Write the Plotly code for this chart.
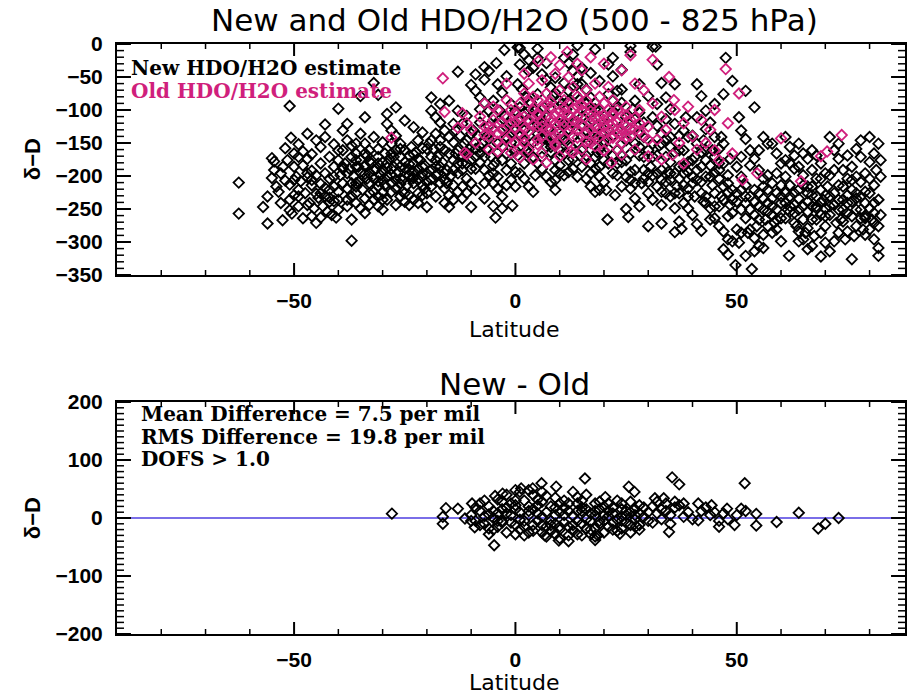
import plotly.graph_objects as go

# ---------------- data ----------------
# New HDO/H2O estimate (black): latitude and delta-D
new_lat = [
    -62.5, -62.5, -57, -56, -56, -52.6, -55, -54.5, -51, -50.7,
    -53, -52, -51, -50, -50, -53, -51, -49.5, -52, -54,
    -51.5, -50, -53.5, -55, -49, -50.5, -52.5, -49, -54.5, -51,
    -49, -48, -47, -46, -45, -44, -43, -42, -41, -40,
    -48.5, -47.5, -46.5, -45.5, -44.5, -43.5, -42.5, -41.5, -40.5, -45,
    -48, -47, -46, -45, -44, -43, -42, -41, -40, -39.5,
    -49, -47, -46, -44, -42, -41, -40, -43, -41, -40,
    -48, -46, -44, -42, -40, -45, -47, -43, -40, -39,
    -39, -38, -37, -36, -35, -34, -33, -32, -31, -30,
    -39, -38, -37, -36, -35, -34, -33, -32, -31, -30,
    -38.5, -37.5, -36.5, -35.5, -34.5, -33.5, -32.5, -31.5, -30.5, -30,
    -39, -37, -36, -34, -33, -32, -31, -30, -35, -37,
    -37, -38, -36, -34, -33, -31, -35, -32, -30, -36,
    -32, -35, -31, -38, -34, -33, -31, -39, -36, -30,
    -29, -28, -27, -26, -25, -24, -23, -22, -21, -20,
    -29, -28, -27, -26, -25, -24, -23, -22, -21, -20,
    -29.5, -28.5, -27.5, -26.5, -25.5, -24.5, -23.5, -22.5, -21.5, -20.5,
    -29, -27, -25, -23, -21, -28, -26, -24, -22, -20,
    -29, -27, -25, -23, -21, -28, -26, -24, -22, -20,
    -29, -27, -25, -23, -21, -28, -26, -24, -22, -20,
    -19, -18, -17, -16, -15, -14, -13, -12, -11, -10,
    -19, -18, -17, -16, -15, -14, -13, -12, -11, -10,
    -19.5, -18.5, -17.5, -16.5, -15.5, -14.5, -13.5, -12.5, -11.5, -10.5,
    -19, -17, -15, -13, -11, -18, -16, -14, -12, -10,
    -19, -17, -15, -13, -11, -18, -16, -14, -12, -10,
    -19, -17, -15, -13, -11, -18, -16, -14, -12, -10,
    -9, -8, -7, -6, -5, -4, -3, -2, -1, 0,
    -9, -8, -7, -6, -5, -4, -3, -2, -1, 0,
    -9.5, -8.5, -7.5, -6.5, -5.5, -4.5, -3.5, -2.5, -1.5, -0.5,
    -9, -7, -5, -4.5, -3, -0.7, -8, -6, -4, -2,
    -9, -7, -6, -4, -2, -8, -5, -3, -1, 0,
    -9, -7, -5, -3, -1, -8, -6, -4, -2, 0,
    1, 2, 3, 4, 5, 6, 7, 8, 9, 10,
    1, 2, 3, 4, 5, 6, 7, 8, 9, 10,
    0.5, 1.5, 2.5, 3.5, 4.5, 5.5, 6.5, 7.5, 8.5, 9.5,
    1, 2, 3, 4, 5, 6, 7, 8, 9, 10,
    1, 3, 5, 7, 9, 2, 4, 6, 8, 10,
    0.5, 2.5, 4.5, 6.5, 8.5, 1, 3, 5, 7, 9,
    11, 12, 13, 14, 15, 16, 17, 18, 19, 20,
    11, 12, 13, 14, 15, 16, 17, 18, 19, 20,
    10.5, 11.5, 12.5, 13.5, 14.5, 15.5, 16.5, 17.5, 18.5, 19.5,
    11, 13, 15, 16, 17, 18, 12, 14, 19, 20,
    11, 13, 15, 17, 19, 12, 14, 16, 18, 20,
    10.5, 12.5, 14.5, 16.5, 18.5, 11, 13, 15, 17, 19,
    21, 22, 23, 24, 25, 26, 27, 28, 29, 30,
    21, 22, 23, 24, 25, 26, 27, 28, 29, 30,
    20.8, 25, 25.5, 30, 21, 22, 23, 24, 27, 28,
    26, 26, 22, 24, 28, 30, 29, 27, 26, 23,
    21, 23, 25, 27, 29, 22, 24, 26, 28, 30,
    20.5, 22.5, 24.5, 26.5, 28.5,
    31, 32, 33, 34, 35, 36, 37, 38, 39, 40,
    31, 32, 33, 34, 35, 36, 37, 38, 39, 40,
    33, 36, 37.5, 31, 32, 33, 34, 35, 36, 37,
    31, 32, 33, 34, 35, 36, 38, 39, 40, 38,
    31, 33, 35, 37, 39, 32, 34, 36, 38, 40,
    30.5, 32.5, 34.5, 36.5, 38.5,
    41, 42, 43, 44, 45, 46, 47, 48, 49, 50,
    41, 42, 43, 44, 45, 46, 47, 48, 49, 50,
    41, 42, 44, 46, 48, 49.7, 47, 48, 45, 43,
    41, 42, 43, 44, 45, 46, 47, 48, 49, 50,
    40.5, 42.5, 44.5, 46.5, 48.5, 41, 43, 45, 47, 49,
    40.5, 42.5, 44.5, 46.5, 48.5,
    51, 52, 53, 54, 55, 56, 57, 58, 59, 60,
    51, 52, 53, 54, 55, 56, 57, 58, 59, 60,
    53.4, 52, 54, 56, 51, 50.5, 55, 57, 59, 60,
    51, 52, 53, 54, 55, 56, 57, 58, 59, 60,
    51, 53, 55, 57, 59, 52, 54, 56, 58, 60,
    54, 52, 50.5, 56, 58,
    61, 62, 63, 64, 65, 66, 67, 68, 69, 70,
    61, 62, 63, 64, 65, 66, 67, 68, 69, 70,
    61.8, 69, 66, 64, 67, 61, 62, 63, 64, 65,
    66, 67, 68, 69, 70, 61, 63, 65, 67, 69,
    62, 64, 66, 68, 70, 61, 63, 65, 67, 69,
    62, 64, 66, 68, 70,
    71, 72, 73, 74, 75, 76, 77, 78, 79, 80,
    81, 82, 82, 81, 80, 79, 78, 77, 76, 75,
    74, 73, 72, 71, 76, 82, 73, 75, 77, 79,
    81, 82.5, 82.5, 82.5, 80, 78, 71, 72, 74, 76,
    78, 80, 81, 79, 77, 75, 73, 71, 72, 74,
    76, 78, 80, 82, 81, 77, 75, 73, 71, 79,
    -2.5, -4.3, -13, 0.5, -10, -7, 14, 18, 31.7, 47.5,
    -34, -33, -31, -29, -28, -26, -25, -23, -22, -19,
    -36, -32, -30, -27, -24, -21, -18, -16, -14, -12,
    -35.5, -33.5, -29.5, -27.5, -25.5, -23.5, -20.5, -17.5, -15.5, -13.5,
    -38, -36, -34, -31, -28, -26, -23, -21, -19, -17,
    -11, -9, -8, -6, -5, -3, -2, -1, -7, -4,
    0, 1, 2, 3, 4, 5, 6, 7, 8, 9,
    10, 11, 12, 13, 14, 15, 16, 17, 18, 19,
    20, 21, 22, 23, 24, 25, 26, 27, 28, 29,
    30, 31, 32, 33, 34, 35, 36, 37, 38, 39,
    40, 41, 42, 43, 44, 45, 46, 47, 48, 49,
    50, 51, 52, 53, 54, 55, 56, 57, 58, 59,
    60, 61, 62, 63, 64, 65, 66, 67, 68, 69,
    70, 71, 72, 73, 74, 75, 76, 77, 78, 79,
    80, 81, 82, 80.5, 81.5, 78.5, 76.5, 74.5, 72.5, 70.5,
    63.5, 65.5, 67.5, 58.5, 56.5, 54.5, 52.5, 61.5, 69.5, 73.5,
    -44, -42, -47, -49, -41, -38, -37, -46, -50, -43,
    2, 4, 6, 8, 12, 14, 16, 18, 22, 24,
    33, 35, 37, 39, 43, 45, 47, 44, 46, 42,
]
new_dd = [
    -210, -257, -247, -231, -272, -267, -173, -178, -94, -142,
    -196, -207, -213, -186, -229, -241, -252, -201, -158, -216,
    -176, -166, -224, -203, -246, -257, -186, -171, -191, -236,
    -152, -163, -174, -192, -199, -212, -218, -233, -238, -251,
    -208, -226, -241, -249, -233, -246, -254, -259, -263, -271,
    -184, -202, -214, -227, -181, -196, -204, -216, -224, -199,
    -231, -244, -167, -156, -171, -186, -176, -141, -152, -161,
    -264, -261, -263, -239, -236, -146, -136, -122, -98, -189,
    -131, -146, -154, -166, -176, -184, -196, -204, -216, -224,
    -211, -219, -231, -241, -249, -256, -244, -236, -246, -251,
    -181, -189, -201, -209, -221, -169, -181, -189, -199, -179,
    -161, -171, -186, -151, -161, -141, -159, -149, -136, -298,
    -266, -246, -226, -234, -226, -231, -194, -191, -206, -151,
    -59, -79, -77, -121, -111, -211, -171, -186, -211, -236,
    -121, -131, -139, -151, -161, -169, -181, -189, -201, -209,
    -201, -211, -219, -231, -239, -244, -236, -226, -214, -247,
    -166, -174, -186, -194, -206, -214, -156, -164, -176, -184,
    -236, -244, -226, -211, -229, -151, -171, -191, -146, -159,
    -106, -96, -116, -126, -134, -189, -204, -199, -206, -196,
    -181, -161, -179, -194, -186, -224, -186, -229, -241, -226,
    -101, -111, -119, -131, -141, -149, -161, -169, -181, -189,
    -191, -199, -211, -219, -229, -236, -224, -216, -204, -247,
    -151, -159, -171, -179, -191, -199, -131, -139, -151, -159,
    -216, -146, -247, -196, -226, -136, -161, -176, -121, -136,
    -81, -91, -86, -101, -109, -176, -196, -121, -191, -211,
    -171, -186, -166, -181, -164, -231, -241, -214, -234, -176,
    -71, -81, -89, -101, -109, -121, -129, -141, -149, -161,
    -171, -179, -191, -199, -211, -219, -231, -214, -206, -194,
    -131, -139, -151, -159, -171, -179, -101, -109, -121, -129,
    -221, -234, -246, -263, -249, -245, -119, -136, -151, -166,
    -46, -54, -41, -61, -49, -99, -86, -74, -91, -101,
    -189, -171, -184, -176, -181, -156, -144, -164, -191, -216,
    -6, -16, -24, -36, -7, -46, -54, -66, -74, -86,
    -96, -104, -116, -124, -136, -144, -156, -164, -176, -184,
    -61, -69, -81, -89, -101, -109, -121, -129, -141, -149,
    -196, -204, -216, -224, -181, -189, -201, -209, -221, -161,
    -31, -41, -21, -29, -51, -131, -149, -171, -99, -121,
    -169, -161, -199, -96, -79, -139, -166, -76, -111, -191,
    -21, -29, -41, -49, -61, -69, -81, -89, -101, -109,
    -121, -129, -141, -149, -161, -169, -181, -189, -201, -209,
    -91, -99, -111, -76, -84, -96, -104, -116, -124, -136,
    -166, -174, -186, -204, -216, -224, -194, -201, -159, -176,
    -59, -16, -36, -44, -56, -71, -109, -131, -144, -151,
    -139, -156, -169, -146, -164, -199, -119, -126, -139, -221,
    -31, -49, -71, -89, -111, -129, -151, -169, -191, -209,
    -121, -139, -161, -179, -201, -219, -234, -246, -204, -226,
    -266, -250, -262, -276, -181, -101, -129, -151, -86, -104,
    -3, -12, -21, -39, -61, -79, -119, -191, -166, -199,
    -76, -94, -146, -114, -141, -169, -216, -194, -136, -161,
    -221, -229, -121, -99, -211,
    -4, -31, -59, -81, -99, -121, -139, -161, -179, -201,
    -151, -169, -191, -209, -231, -249, -269, -241, -219, -259,
    -272, -285, -280, -199, -216, -224, -171, -179, -196, -204,
    -111, -124, -136, -144, -156, -164, -186, -194, -176, -214,
    -236, -244, -206, -226, -249, -91, -114, -61, -131, -139,
    -186, -154, -194, -216, -111,
    -61, -79, -101, -119, -141, -159, -181, -199, -221, -239,
    -191, -209, -231, -249, -264, -276, -284, -296, -299, -281,
    -273, -283, -266, -246, -261, -335, -311, -319, -226, -201,
    -151, -164, -176, -184, -196, -204, -216, -224, -236, -186,
    -231, -239, -214, -231, -244, -111, -129, -91, -76, -56,
    -171, -146, -161, -141, -174,
    -131, -144, -161, -174, -191, -204, -221, -234, -251, -264,
    -251, -264, -281, -294, -306, -289, -276, -259, -281, -299,
    -341, -321, -314, -309, -286, -301, -246, -254, -226, -241,
    -201, -214, -231, -239, -226, -234, -199, -211, -196, -214,
    -171, -184, -161, -151, -166, -241, -259, -251, -286, -181,
    -96, -71, -111, -141, -151,
    -141, -156, -169, -186, -199, -216, -229, -246, -259, -276,
    -241, -254, -271, -284, -296, -279, -266, -249, -286, -301,
    -321, -322, -311, -299, -306, -201, -214, -226, -234, -246,
    -254, -191, -204, -221, -229, -176, -189, -166, -161, -181,
    -231, -251, -239, -266, -249, -264, -244, -214, -216, -204,
    -181, -151, -174, -169, -196,
    -141, -161, -174, -191, -204, -221, -234, -251, -264, -281,
    -296, -309, -151, -166, -179, -196, -209, -226, -239, -256,
    -269, -286, -299, -314, -326, -321, -251, -229, -201, -224,
    -241, -259, -201, -176, -141, -146, -231, -244, -216, -186,
    -171, -204, -271, -289, -276, -284, -214, -199, -191, -236,
    -261, -264, -249, -236, -214, -159, -169, -151, -259, -241,
    -9, -29, -42, -5, -62, -35, -2, -8, -4, -21,
    -197, -178, -208, -187, -198, -212, -188, -203, -174, -205,
    -216, -224, -192, -206, -182, -196, -186, -206, -191, -181,
    -186, -204, -214, -171, -224, -204, -219, -196, -211, -166,
    -196, -176, -166, -181, -166, -159, -167, -158, -146, -156,
    -146, -159, -166, -124, -196, -156, -126, -136, -211, -201,
    -131, -116, -146, -101, -171, -121, -131, -141, -151, -206,
    -196, -146, -176, -189, -131, -111, -151, -196, -171, -186,
    -146, -159, -196, -181, -169, -176, -206, -211, -156, -171,
    -196, -171, -196, -206, -226, -196, -226, -186, -196, -231,
    -211, -206, -226, -241, -201, -246, -191, -236, -211, -256,
    -226, -221, -231, -251, -221, -266, -216, -241, -246, -266,
    -231, -226, -246, -256, -221, -266, -226, -246, -231, -241,
    -261, -246, -226, -236, -251, -241, -206, -251, -231, -261,
    -226, -256, -276, -266, -191, -281, -291, -296, -271, -216,
    -276, -286, -291, -271, -266, -276, -286, -251, -236, -266,
    -226, -221, -196, -221, -201, -236, -211, -206, -206, -231,
    -181, -111, -116, -156, -86, -61, -91, -99, -86, -69,
    -151, -141, -161, -141, -161, -171, -151, -201, -181, -186,
]

# Old HDO/H2O estimate (magenta)
old_lat = [
    -8, -7, -6, -5, -4, -3, -2, -1, 0, 1,
    2, 3, 4, 5, 6, 7, 8, 9, 10, 11,
    12, 13, 14, 15, 16, 17, 18, 19, 20, 21,
    22, 23, 24, 25, -6, -3, 0, 3, 6, 9,
    12, 15, 18, 21, 24, -5, -2, 1, 4, 7,
    10, 13, 16, 19, 22, 25, -1, 2, 5, 8,
    11, 14, 17, 20, 23, 26, 27, 28, 29, 30,
    -7, -4, -1, 2, 5, 8, 11, 14, 17, 20,
    23, 26, 3, 6, 9, 12, 15, 18, 21, 13,
    16, 10, 7, 4, 1, -9, -10, -11, -12, 19,
    22, 11, 14, 8, 5, 2, 17, 20, 24, 28,
    -28, -16.4, -11.5, -16, -13, 5.2, 11.7, 10, 26, 31,
    34.7, 35.8, 51.3, 54.6, 64.5, 69, 70.4, 73.7, 60, 46,
    49, 45, 35.5, 38, 21.7, 20, 12.5, 9, -4, -11,
    -7, 47.5, 50.5, 36, 38, 40, 42, 44, 33, 32,
    34, 37, 39, 41, 43, 31, 29, 27, 24, 20,
    17, 14, 8, 2, -2, 30, 27, 33, 45, 48,
    -5, -3, -1, 1, 3, 5, 7, 9, 11, 13,
    15, 17, 19, 21, 23, 25, 0, 4, 8, 12,
    16, 20, 24, -4, -2, 2, 6, 10, 14, 18,
    22, 26, -6, 0, 5, 9, 13, 17, 21, 25,
    3, 7, 11, 15, 19, 23, 27, 1, 6, 10,
    14, 18, 22, 8, 12, 16, 20, 24, 28, 30,
]
old_dd = [
    -110, -125, -140, -115, -100, -130, -145, -120, -105, -135,
    -150, -115, -100, -125, -140, -110, -95, -120, -135, -105,
    -90, -115, -130, -100, -85, -110, -125, -140, -115, -100,
    -120, -135, -110, -125, -160, -155, -150, -160, -165, -155,
    -150, -160, -155, -145, -150, -95, -85, -90, -80, -75,
    -70, -65, -70, -80, -85, -95, -100, -110, -105, -130,
    -125, -110, -130, -135, -100, -115, -130, -120, -140, -125,
    -90, -135, -165, -128, -145, -112, -142, -95, -150, -90,
    -160, -140, -60, -55, -45, -50, -40, -60, -65, -165,
    -175, -170, -180, -175, -172, -150, -130, -120, -105, -110,
    -105, -85, -80, -88, -85, -75, -95, -125, -130, -100,
    -142, -52, -165, -103, -127, -26, -12, -32, -17, -24,
    -50, -85, -206, -196, -208, -170, -163, -138, -143, -176,
    -166, -161, -168, -181, -180, -161, -163, -151, -163, -167,
    -138, -38, -75, -100, -120, -140, -115, -130, -110, -145,
    -130, -150, -95, -160, -150, -90, -70, -60, -40, -30,
    -20, -30, -20, -45, -60, -170, -160, -175, -100, -120,
    -128, -118, -138, -112, -132, -108, -128, -138, -118, -128,
    -122, -118, -128, -132, -118, -142, -118, -122, -118, -108,
    -135, -108, -138, -148, -112, -142, -98, -102, -142, -112,
    -128, -128, -126, -128, -152, -108, -98, -102, -112, -108,
    -88, -92, -98, -92, -98, -118, -112, -158, -125, -115,
    -118, -138, -142, -142, -132, -148, -162, -168, -132, -145,
]

# New - Old difference
diff_lat = [
    -27.9, -16.4, -16.4, -15.7, -13, -11.4, -9.8, -9.2, -4.8, -4.6,
    -2.9, 0, 1.3, 3.9, 5.9, 9.2, 15.7, 20.3, 25.6, 26.9,
    31.5, 33.5, 35.4, 37, 34.7, 38, 41.3, 41.3, 44.3, 47.8,
    49.5, 51, 51.8, 54.4, 54.4, 59, 64, 68.4, 70, 73,
    18, 18.6, 9.8, 6.6, 23.6, 27.3,
    -10, -9, -8, -7, -6, -5, -4, -3, -2, -1,
    0, 1, 2, 3, 4, 5, 6, 7, 8, 9,
    10, 11, 12, 13, 14, 15, 16, 17, 18, 19,
    20, 21, 22, 23, 24, 25, 26, 27, 28, 29,
    30, -9, -7, -5, -3, -1, 1, 3, 5, 7,
    9, 11, 13, 15, 17, 19, 21, 23, 25, 27,
    -8, -6, -4, -2, 0, 2, 4, 6, 8, 10,
    12, 14, 16, 18, 20, 22, 24, 26, 28, 30,
    -10, -8, -6, -4, -2, 0, 2, 4, 6, 8,
    10, 12, 14, 16, 18, 20, 22, 24, 26, 28,
    1, 3, 5, 7, 9, 11, 13, 15, 17, 19,
    -3, 0, 3, 6, 9, 12, 15, 18, 21, 24,
    31, 32, 33, 34, 35, 36, 36, 37, 33, 35,
    32, 34, 38, 39, 40, 42, 44, 45, 46, 47,
    46, 43, 48, 52, 50,
    -7, -5, -3, -1, 1, 3, 5, 7, 9, 11,
    13, 15, 17, 19, 21, 23, 25, 27, 29, 31,
    0, 2, 4, 6, 8, 10, 12, 14, 16, 18,
    20, 22, 24, 26, 28, -6, -4, -2, 10, 14,
]
diff_dd = [
    7.5, 2, -10, 17, 16, -1, 25, -16, -47, 38,
    42, 48, 51, 51, 60, 54, 68, 36, 54, 45,
    34, 34, 70, 58, -24, 25, 25, -4, 22, 16,
    -12, 16, 60, 7, -13, -7, 9, -18, -10, 0,
    -38, -30, -39, -30, -27, -14,
    5, -5, 12, -10, 20, 0, -15, 28, 8, -8,
    15, -20, 30, 5, -12, 22, -25, 10, -5, 35,
    -15, 18, -30, 4, 25, -10, 40, -20, 12, -5,
    20, -15, 8, -22, 15, -8, 28, 5, -12, 18,
    10, 18, 30, -20, -5, 25, 10, -25, -5, 38,
    -28, -8, -22, 30, 8, 28, 3, 30, 12, -3,
    -12, 6, 32, -25, -12, -5, 40, 2, 20, -35,
    12, -5, 15, -18, 5, -8, -18, -12, 22, -5,
    -5, 25, -18, 8, 40, 30, -30, 15, -12, -22,
    25, -15, -28, -2, 25, -25, 18, 2, 10, -20,
    45, 48, 32, -32, -10, 30, 45, -30, -28, 15,
    15, -28, 20, 45, 5, -40, 12, -32, 25, -5,
    20, 28, 15, 25, 5, 18, 28, 22, -2, -10,
    8, 12, 2, 10, -2, 12, 5, 10, -5, 8,
    -15, 18, -2, 12, 5,
    3, 12, -8, 5, -3, 12, 8, -15, 18, 5,
    -12, 18, -5, -10, 12, -3, 5, 15, 2, -8,
    22, -15, -22, 28, -12, 10, 25, 12, -18, 5,
    -5, -20, 25, -25, 8, -28, -5, 18, -20, 36,
]

assert len(new_lat) == len(new_dd)
assert len(old_lat) == len(old_dd)
assert len(diff_lat) == len(diff_dd)

# axis ranges and tick values
x_range = [-90, 88]
x_major = [-50, 0, 50]
y1_range = [-350, 0]
y2_range = [-200, 200]

title_top = "New and Old HDO/H2O (500 - 825 hPa)"
title_bottom = "New - Old"
legend_new = "New HDO/H2O estimate"
legend_old = "Old HDO/H2O estimate"
stats_lines = ["Mean Difference = 7.5 per mil",
               "RMS Difference = 19.8 per mil",
               "DOFS > 1.0"]

# ---------------- figure ----------------
W, H = 909, 696
L, R, T, B = 117, 2, 44, 62
PW, PH = W - L - R, H - T - B
TOP_Y0, TOP_Y1 = 44, 275      # pixel rows of the top frame
BOT_Y0, BOT_Y1 = 402, 634     # pixel rows of the bottom frame


def px(x):
    return (x - L) / PW


def py(y):
    return (H - B - y) / PH


PINK = "#d01f7c"
BLUE = "#7a6ee8"

fig = go.Figure()
marker_black = dict(symbol="diamond-open", size=8, color="black",
                    line=dict(width=1.8, color="black"))
marker_pink = dict(symbol="diamond-open", size=8, color=PINK,
                   line=dict(width=1.8, color=PINK))

fig.add_trace(go.Scatter(x=new_lat, y=new_dd, mode="markers",
                         marker=marker_black, xaxis="x", yaxis="y",
                         showlegend=False, hoverinfo="skip"))
fig.add_trace(go.Scatter(x=old_lat, y=old_dd, mode="markers",
                         marker=marker_pink, xaxis="x", yaxis="y",
                         showlegend=False, hoverinfo="skip"))
fig.add_trace(go.Scatter(x=x_range, y=[0, 0], mode="lines",
                         line=dict(color=BLUE, width=2), xaxis="x2",
                         yaxis="y2", showlegend=False, hoverinfo="skip"))
fig.add_trace(go.Scatter(x=diff_lat, y=diff_dd, mode="markers",
                         marker=marker_black, xaxis="x2", yaxis="y2",
                         showlegend=False, hoverinfo="skip"))


# inside tick marks drawn as line traces (scaled from axis units to pixels)
def add_ticks(xa, ya, yr, frame_h):
    ux = (x_range[1] - x_range[0]) / PW          # data units per pixel, x
    uy = (yr[1] - yr[0]) / frame_h               # data units per pixel, y
    step = 50 if yr[0] == -350 else 100
    groups = {True: ([], []), False: ([], [])}
    for v in range(-80, 90, 10):
        major = v in x_major
        ln = (12 if major else 5) * uy
        xs, ys = groups[major]
        xs += [v, v, None, v, v, None]
        ys += [yr[0], yr[0] + ln, None, yr[1], yr[1] - ln, None]
    for v in range(int(yr[0]), int(yr[1]) + 1, 10):
        major = (v % step == 0)
        ln = (14 if major else 7) * ux
        xs, ys = groups[major]
        xs += [x_range[0], x_range[0] + ln, None,
               x_range[1], x_range[1] - ln, None]
        ys += [v, v, None, v, v, None]
    for major, (xs, ys) in groups.items():
        fig.add_trace(go.Scatter(
            x=xs, y=ys, mode="lines", xaxis=xa, yaxis=ya,
            line=dict(color="black", width=2 if major else 1.5),
            showlegend=False, hoverinfo="skip", cliponaxis=False))


add_ticks("x", "y", y1_range, TOP_Y1 - TOP_Y0)
add_ticks("x2", "y2", y2_range, BOT_Y1 - BOT_Y0)


def axis(**kw):
    d = dict(ticks="", showline=True, linewidth=2, linecolor="black",
             mirror=True, showgrid=False, zeroline=False,
             tickfont=dict(family="Liberation Sans", size=21,
                           color="black", weight="bold"))
    d.update(kw)
    return d


fig.update_layout(
    width=W, height=H,
    margin=dict(l=L, r=R, t=T, b=B),
    paper_bgcolor="white", plot_bgcolor="white",
    showlegend=False,
    xaxis=axis(range=x_range, tickvals=x_major, ticklabelstandoff=6,
               anchor="y", domain=[0, 1]),
    yaxis=axis(range=y1_range, dtick=50, ticklabelstandoff=8,
               domain=[py(TOP_Y1), 1], anchor="x"),
    xaxis2=axis(range=x_range, tickvals=x_major, ticklabelstandoff=6,
                anchor="y2", domain=[0, 1]),
    yaxis2=axis(range=y2_range, dtick=100, ticklabelstandoff=8,
                domain=[0, py(BOT_Y0)], anchor="x2"),
)

title_font = dict(family="DejaVu Sans", size=31, color="black")
label_font = dict(family="DejaVu Sans", size=22, color="black")
ytitle_font = dict(family="Liberation Sans", size=22, color="black",
                   weight="bold")
text_font = dict(family="DejaVu Serif", size=20, color="black",
                 weight="bold")

ann = []
ann.append(dict(text=title_top, x=px(516), y=py(20), font=title_font))
ann.append(dict(text="Latitude", x=px(516), y=py(329), font=label_font))
ann.append(dict(text=title_bottom, x=px(516), y=py(384), font=title_font))
ann.append(dict(text="Latitude", x=px(516), y=py(682), font=label_font))
ann.append(dict(text="δ−D", x=px(32), y=py(159), textangle=-90,
                font=ytitle_font))
ann.append(dict(text="δ−D", x=px(32), y=py(518), textangle=-90,
                font=ytitle_font))
ann.append(dict(text=legend_new, x=px(129), y=py(68), xanchor="left",
                font=text_font))
ann.append(dict(text=legend_old, x=px(129), y=py(91), xanchor="left",
                font=dict(text_font, color=PINK)))
for i, line in enumerate(stats_lines):
    ann.append(dict(text=line, x=px(139), y=py(414 + 22.5 * i),
                    xanchor="left", font=text_font))
for a in ann:
    a.setdefault("xanchor", "center")
    a.update(xref="paper", yref="paper", yanchor="middle", showarrow=False)
fig.update_layout(annotations=ann)

fig.write_html("out.html")
